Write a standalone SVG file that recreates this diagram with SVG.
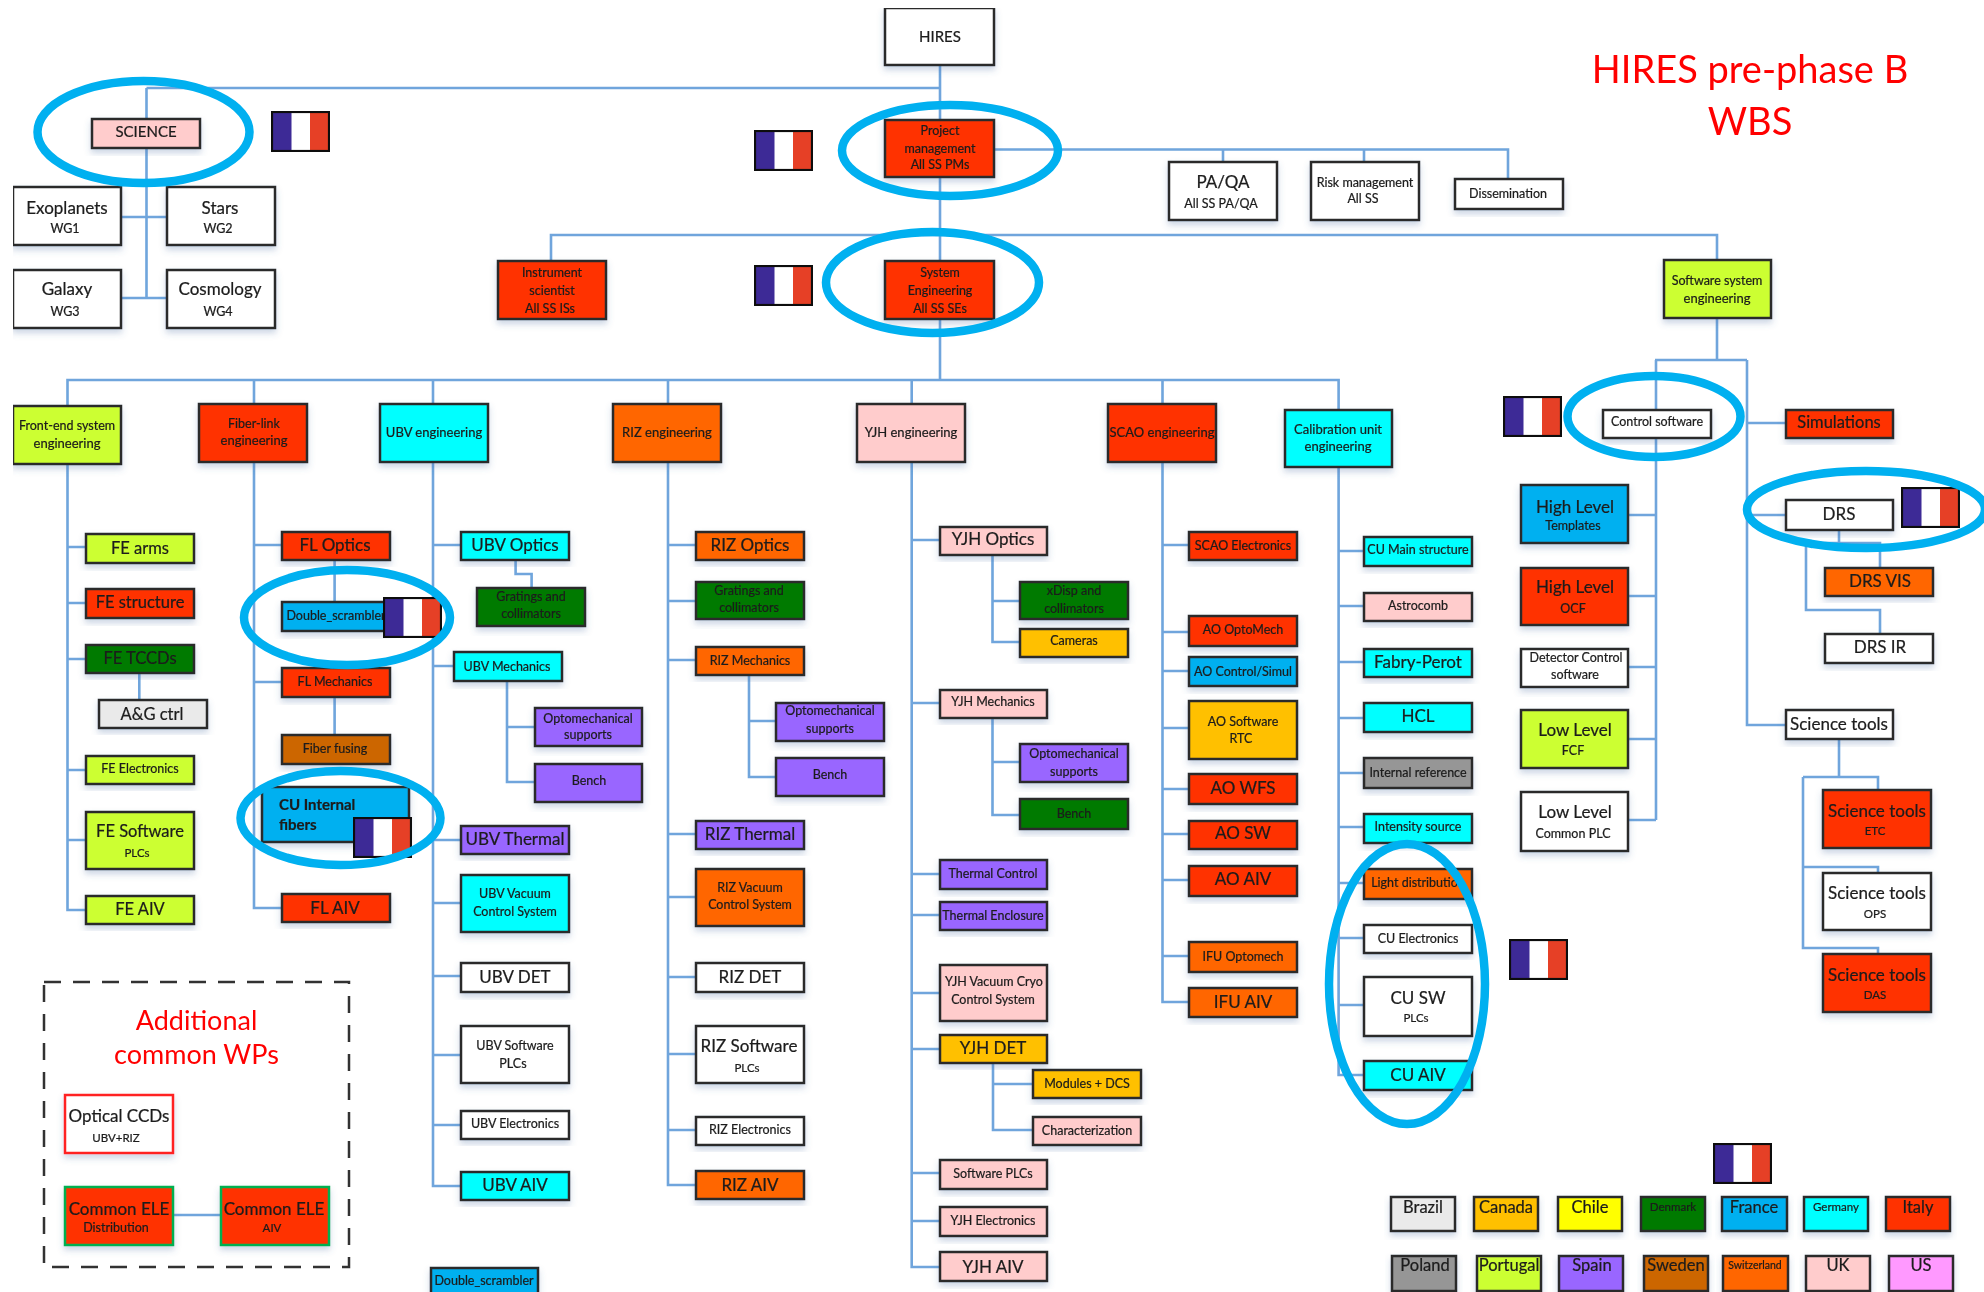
<svg xmlns="http://www.w3.org/2000/svg" width="1984" height="1292" viewBox="0 0 1984 1292">
<defs>
<style>
text{font-family:Lato,"Liberation Sans",sans-serif;text-anchor:middle;fill:#1c1c1c;stroke:#1c1c1c;stroke-width:.22}
.b{stroke:#2b2b2b;stroke-width:2.5;filter:url(#sh)}
.c{fill:none;stroke:#6fa5dc;stroke-width:2.6}
.o{fill:none;stroke:#00b0f0;stroke-width:8.5}
.w{fill:#fff}.r{fill:#ff3300}.or{fill:#ff6600}.g{fill:#007a00}.cy{fill:#00ffff}.l{fill:#ccff33}.p{fill:#ffcccc}.v{fill:#9966ff}.y{fill:#ffc000}.br{fill:#cc6600}.gr{fill:#969696}.lg{fill:#eaeaea}.bl{fill:#00b0f0}.ye{fill:#ffff00}.m{fill:#ff99ff}
.s10{font-size:10.5px}.s11{font-size:11.5px}.s12{font-size:12.5px}.s13{font-size:13px}.s15{font-size:15px}.s16{font-size:16.5px}.s18{font-size:17px}.s20{font-size:20px}
text.red{fill:#ff0000;stroke:none}
</style>
<filter id="sh" x="-10%" y="-15%" width="120%" height="140%"><feDropShadow dx="0" dy="4" stdDeviation="3" flood-color="#4a6fa0" flood-opacity=".28"/></filter>
<filter id="soft" x="0" y="0" width="100%" height="100%"><feGaussianBlur stdDeviation="0.6"/></filter>
<symbol id="flag" viewBox="0 0 59 41" width="59" height="41">
<rect x="1" y="1" width="57" height="39" fill="#fff"/>
<rect x="1" y="1" width="19.5" height="39" fill="#3c2a96"/>
<rect x="39" y="1" width="19" height="39" fill="#e64027"/>
<rect x="1" y="1" width="57" height="39" fill="none" stroke="#111" stroke-width="2.2"/>
</symbol>
</defs>
<rect width="1984" height="1292" fill="#fff"/>
<g filter="url(#soft)">
<g id="connectors">
<path class="c" d="M146.500 88H940M146.500 88V298M122 217H166M122 298H166"/>
<path class="c" d="M940 66V380M995 149.500H1508V178M1223 149.500V161M1364 149.500V161"/>
<path class="c" d="M551 260V235H1717V360M1655 360H1747M1656 360V820M1747 360V725H1785M1747 423H1785M1747 515H1785"/>
<path class="c" d="M1629 515H1656M1629 596H1656M1629 667H1656M1629 739H1656M1629 820H1656"/>
<path class="c" d="M1839 530V543M1806 543H1880V567M1806 543V610H1880V633"/>
<path class="c" d="M1839 739V777M1803 777H1878V789M1803 777V948H1878V953M1803 867H1878V872"/>
<path class="c" d="M67.500 405V380H1338.600V409M254 380V403M433 380V403M668 380V403M911.700 380V403M1162.500 380V403"/>
<path class="c" d="M67.500 465V910H85.500M67.500 547H85.500M67.500 603H85.500M67.500 659H85.500M67.500 770H85.500M67.500 840H85.500M139.300 673V699"/>
<path class="c" d="M254 463V908H281M254 545H281M254 682H281M334.600 560V601M334.600 698V734"/>
<path class="c" d="M433 463V1186H460M433 545H460M433 666H453M433 840H460M433 903H460M433 976H460M433 1055H460M433 1125H460M515.600 560V574H531.600V587M507 682V782H534M507 727H534"/>
<path class="c" d="M668 463V1185H695M668 545H695M668 601H695M668 660H695M668 834H695M668 897H695M668 977H695M668 1054H695M668 1130H695M749 675V777H775M749 721H775"/>
<path class="c" d="M911.700 463V1267H939M911.700 540H939M911.700 703H939M911.700 874H939M911.700 915H939M911.700 993H939M911.700 1049H939M911.700 1173H939M911.700 1221H939M992.500 555V642H1019M992.500 601H1019M992.500 718V815H1019M992.500 762H1019M993 1064V1130H1032M993 1084H1032"/>
<path class="c" d="M1162.500 463V1002H1188M1162.500 545H1188M1162.500 632H1188M1162.500 671H1188M1162.500 728H1188M1162.500 789H1188M1162.500 834H1188M1162.500 880H1188M1162.500 956H1188"/>
<path class="c" d="M1338.600 467V1075H1363M1338.600 551H1363M1338.600 606H1363M1338.600 662H1363M1338.600 718H1363M1338.600 773H1363M1338.600 827H1363M1338.600 883H1363M1338.600 938H1363M1338.600 1005H1363"/>
<path class="c" d="M174 1215H220"/>
</g>

<g id="n-hires"><rect class="b w" x="885" y="8" width="109" height="57"/><text class="s15" x="940" y="42">HIRES</text></g>
<g id="n-science"><rect class="b p" x="92" y="119" width="108" height="29"/><text class="s15" x="146" y="137">SCIENCE</text></g>
<g id="n-exoplanets"><rect class="b w" x="13" y="187" width="108" height="58"/><text class="s18" x="67" y="214">Exoplanets</text><text class="s12" x="65" y="233">WG1</text></g>
<g id="n-stars"><rect class="b w" x="167" y="187" width="108" height="58"/><text class="s18" x="220" y="214">Stars</text><text class="s12" x="218" y="233">WG2</text></g>
<g id="n-galaxy"><rect class="b w" x="13" y="270" width="108" height="58"/><text class="s18" x="67" y="295">Galaxy</text><text class="s12" x="65" y="316">WG3</text></g>
<g id="n-cosmology"><rect class="b w" x="167" y="270" width="108" height="58"/><text class="s18" x="220" y="295">Cosmology</text><text class="s12" x="218" y="316">WG4</text></g>
<g id="n-pm"><rect class="b r" x="885" y="120" width="109" height="57"/><text class="s12" x="940" y="135">Project</text><text class="s12" x="940" y="153">management</text><text class="s12" x="940" y="169">All SS PMs</text></g>
<g id="n-paqa"><rect class="b w" x="1169" y="162" width="108" height="58"/><text class="s18" x="1223" y="188">PA/QA</text><text class="s12" x="1221" y="208">All SS PA/QA</text></g>
<g id="n-risk"><rect class="b w" x="1311" y="162" width="108" height="58"/><text class="s12" x="1365" y="187">Risk management</text><text class="s12" x="1363" y="203">All SS</text></g>
<g id="n-diss"><rect class="b w" x="1455" y="179" width="108" height="30"/><text class="s12" x="1508" y="198">Dissemination</text></g>
<g id="n-instrument"><rect class="b r" x="498" y="261" width="108" height="58"/><text class="s12" x="552" y="277">Instrument</text><text class="s12" x="552" y="295">scientist</text><text class="s12" x="550" y="313">All SS ISs</text></g>
<g id="n-syseng"><rect class="b r" x="885" y="261" width="109" height="58"/><text class="s12" x="940" y="277">System</text><text class="s12" x="940" y="295">Engineering</text><text class="s12" x="940" y="313">All SS SEs</text></g>
<g id="n-swsys"><rect class="b l" x="1664" y="260" width="107" height="58"/><text class="s12" x="1717" y="285">Software system</text><text class="s13" x="1717" y="303">engineering</text></g>

<g id="n-fe"><rect class="b l" x="13" y="406" width="108" height="58"/><text class="s12" x="67" y="430">Front-end system</text><text class="s13" x="67" y="448">engineering</text></g>
<g id="n-fl"><rect class="b r" x="199" y="404" width="108" height="58"/><text class="s12" x="254" y="428">Fiber-link</text><text class="s13" x="254" y="445">engineering</text></g>
<g id="n-ubv"><rect class="b cy" x="380" y="404" width="108" height="58"/><text class="s13" x="434" y="437">UBV engineering</text></g>
<g id="n-riz"><rect class="b or" x="613" y="404" width="108" height="58"/><text class="s13" x="667" y="437">RIZ engineering</text></g>
<g id="n-yjh"><rect class="b p" x="857" y="404" width="108" height="58"/><text class="s13" x="911" y="437">YJH engineering</text></g>
<g id="n-scao"><rect class="b r" x="1108" y="404" width="108" height="58"/><text class="s13" x="1162" y="437">SCAO engineering</text></g>
<g id="n-cal"><rect class="b cy" x="1285" y="410" width="107" height="57"/><text class="s13" x="1338" y="434">Calibration unit</text><text class="s13" x="1338" y="451">engineering</text></g>

<g id="n-fearms"><rect class="b l" x="86" y="534" width="108" height="29"/><text class="s16" x="140" y="554">FE arms</text></g>
<g id="n-festruct"><rect class="b r" x="86" y="589" width="108" height="29"/><text class="s16" x="140" y="608">FE structure</text></g>
<g id="n-fetccd"><rect class="b g" x="86" y="645" width="108" height="28"/><text class="s16" x="140" y="664">FE TCCDs</text></g>
<g id="n-agctrl"><rect class="b lg" x="99" y="700" width="108" height="28"/><text class="s16" x="152" y="720">A&amp;G ctrl</text></g>
<g id="n-feelec"><rect class="b l" x="86" y="756" width="108" height="28"/><text class="s12" x="140" y="773">FE Electronics</text></g>
<g id="n-fesw"><rect class="b l" x="86" y="812" width="108" height="57"/><text class="s16" x="140" y="837">FE Software</text><text class="s11" x="137" y="857">PLCs</text></g>
<g id="n-feaiv"><rect class="b l" x="86" y="896" width="108" height="28"/><text class="s16" x="140" y="915">FE AIV</text></g>

<g id="n-floptics"><rect class="b r" x="282" y="532" width="108" height="28"/><text class="s18" x="335" y="551">FL Optics</text></g>
<g id="n-dscr"><rect class="b bl" x="282" y="602" width="108" height="29"/><text class="s12" x="336" y="620">Double_scrambler</text></g>
<g id="n-flmech"><rect class="b r" x="282" y="668" width="108" height="29"/><text class="s12" x="335" y="686">FL Mechanics</text></g>
<g id="n-fiberf"><rect class="b br" x="282" y="735" width="108" height="29"/><text class="s12" x="335" y="753">Fiber fusing</text></g>
<g id="n-cuint"><rect class="b bl" x="262" y="787" width="147" height="55"/><text class="s15" x="279" y="810" style="text-anchor:start;font-weight:700">CU Internal</text><text class="s15" x="279" y="830" style="text-anchor:start;font-weight:700">fibers</text></g>
<g id="n-flaiv"><rect class="b r" x="282" y="894" width="108" height="28"/><text class="s18" x="335" y="914">FL AIV</text></g>

<g id="n-ubvopt"><rect class="b cy" x="461" y="532" width="108" height="28"/><text class="s18" x="515" y="551">UBV Optics</text></g>
<g id="n-ubvgrat"><rect class="b g" x="477" y="588" width="108" height="38"/><text class="s12" x="531" y="601">Gratings and</text><text class="s12" x="531" y="618">collimators</text></g>
<g id="n-ubvmech"><rect class="b cy" x="454" y="652" width="108" height="29"/><text class="s12" x="507" y="671">UBV Mechanics</text></g>
<g id="n-ubvom"><rect class="b v" x="535" y="708" width="107" height="38"/><text class="s12" x="588" y="723">Optomechanical</text><text class="s12" x="588" y="739">supports</text></g>
<g id="n-ubvbench"><rect class="b v" x="535" y="764" width="107" height="38"/><text class="s12" x="589" y="785">Bench</text></g>
<g id="n-ubvth"><rect class="b v" x="461" y="826" width="108" height="28"/><text class="s18" x="515" y="845">UBV Thermal</text></g>
<g id="n-ubvvac"><rect class="b cy" x="461" y="875" width="108" height="57"/><text class="s12" x="515" y="898">UBV Vacuum</text><text class="s12" x="515" y="916">Control System</text></g>
<g id="n-ubvdet"><rect class="b w" x="461" y="963" width="108" height="29"/><text class="s18" x="515" y="983">UBV DET</text></g>
<g id="n-ubvsw"><rect class="b w" x="461" y="1026" width="108" height="57"/><text class="s12" x="515" y="1050">UBV Software</text><text class="s12" x="513" y="1068">PLCs</text></g>
<g id="n-ubvel"><rect class="b w" x="461" y="1111" width="108" height="28"/><text class="s12" x="515" y="1128">UBV Electronics</text></g>
<g id="n-ubvaiv"><rect class="b cy" x="461" y="1172" width="108" height="28"/><text class="s18" x="515" y="1191">UBV AIV</text></g>
<g id="n-dscr2"><rect class="b bl" x="431" y="1268" width="107" height="32"/><text class="s12" x="484" y="1285">Double_scrambler</text></g>

<g id="n-rizopt"><rect class="b or" x="696" y="532" width="108" height="28"/><text class="s18" x="750" y="551">RIZ Optics</text></g>
<g id="n-rizgrat"><rect class="b g" x="696" y="582" width="108" height="37"/><text class="s12" x="749" y="595">Gratings and</text><text class="s12" x="749" y="612">collimators</text></g>
<g id="n-rizmech"><rect class="b or" x="696" y="647" width="108" height="28"/><text class="s12" x="750" y="665">RIZ Mechanics</text></g>
<g id="n-rizom"><rect class="b v" x="776" y="703" width="108" height="38"/><text class="s12" x="830" y="715">Optomechanical</text><text class="s12" x="830" y="733">supports</text></g>
<g id="n-rizbench"><rect class="b v" x="776" y="758" width="108" height="38"/><text class="s12" x="830" y="779">Bench</text></g>
<g id="n-rizth"><rect class="b v" x="696" y="821" width="108" height="28"/><text class="s18" x="750" y="840">RIZ Thermal</text></g>
<g id="n-rizvac"><rect class="b or" x="696" y="869" width="108" height="57"/><text class="s12" x="750" y="892">RIZ Vacuum</text><text class="s12" x="750" y="909">Control System</text></g>
<g id="n-rizdet"><rect class="b w" x="696" y="963" width="108" height="29"/><text class="s18" x="750" y="983">RIZ DET</text></g>
<g id="n-rizsw"><rect class="b w" x="696" y="1026" width="108" height="57"/><text class="s18" x="749" y="1052">RIZ Software</text><text class="s11" x="747" y="1072">PLCs</text></g>
<g id="n-rizel"><rect class="b w" x="696" y="1117" width="108" height="28"/><text class="s12" x="750" y="1134">RIZ Electronics</text></g>
<g id="n-rizaiv"><rect class="b or" x="696" y="1171" width="108" height="28"/><text class="s18" x="750" y="1191">RIZ AIV</text></g>

<g id="n-yjhopt"><rect class="b p" x="940" y="527" width="107" height="28"/><text class="s18" x="993" y="545">YJH Optics</text></g>
<g id="n-xdisp"><rect class="b g" x="1020" y="582" width="108" height="37"/><text class="s12" x="1074" y="595">xDisp and</text><text class="s12" x="1074" y="613">collimators</text></g>
<g id="n-cameras"><rect class="b y" x="1020" y="629" width="108" height="28"/><text class="s12" x="1074" y="645">Cameras</text></g>
<g id="n-yjhmech"><rect class="b p" x="940" y="690" width="107" height="28"/><text class="s12" x="993" y="706">YJH Mechanics</text></g>
<g id="n-yjhom"><rect class="b v" x="1020" y="744" width="108" height="38"/><text class="s12" x="1074" y="758">Optomechanical</text><text class="s12" x="1074" y="776">supports</text></g>
<g id="n-yjhbench"><rect class="b g" x="1020" y="799" width="108" height="30"/><text class="s12" x="1074" y="818">Bench</text></g>
<g id="n-thc"><rect class="b v" x="940" y="860" width="107" height="29"/><text class="s12" x="993" y="878">Thermal Control</text></g>
<g id="n-the"><rect class="b v" x="940" y="902" width="107" height="28"/><text class="s12" x="993" y="920">Thermal Enclosure</text></g>
<g id="n-yjhvac"><rect class="b p" x="940" y="965" width="107" height="56"/><text class="s12" x="994" y="986">YJH Vacuum Cryo</text><text class="s12" x="993" y="1004">Control System</text></g>
<g id="n-yjhdet"><rect class="b y" x="940" y="1035" width="107" height="28"/><text class="s18" x="993" y="1054">YJH DET</text></g>
<g id="n-modules"><rect class="b y" x="1033" y="1070" width="108" height="28"/><text class="s12" x="1087" y="1088">Modules + DCS</text></g>
<g id="n-char"><rect class="b p" x="1033" y="1117" width="108" height="28"/><text class="s12" x="1087" y="1135">Characterization</text></g>
<g id="n-swplc"><rect class="b p" x="940" y="1160" width="107" height="29"/><text class="s12" x="993" y="1178">Software PLCs</text></g>
<g id="n-yjhel"><rect class="b p" x="940" y="1207" width="107" height="29"/><text class="s12" x="993" y="1225">YJH Electronics</text></g>
<g id="n-yjhaiv"><rect class="b p" x="940" y="1252" width="107" height="29"/><text class="s18" x="993" y="1273">YJH AIV</text></g>

<g id="n-scaoel"><rect class="b r" x="1189" y="532" width="108" height="28"/><text class="s12" x="1243" y="550">SCAO Electronics</text></g>
<g id="n-aoom"><rect class="b r" x="1189" y="616" width="108" height="30"/><text class="s12" x="1243" y="634">AO OptoMech</text></g>
<g id="n-aoctrl"><rect class="b bl" x="1189" y="657" width="108" height="29"/><text class="s12" x="1243" y="676">AO Control/Simul</text></g>
<g id="n-aosw"><rect class="b y" x="1189" y="701" width="108" height="58"/><text class="s12" x="1243" y="726">AO Software</text><text class="s12" x="1241" y="743">RTC</text></g>
<g id="n-aowfs"><rect class="b r" x="1189" y="774" width="108" height="30"/><text class="s18" x="1243" y="794">AO WFS</text></g>
<g id="n-aosw2"><rect class="b r" x="1189" y="821" width="108" height="28"/><text class="s18" x="1243" y="839">AO SW</text></g>
<g id="n-aoaiv"><rect class="b r" x="1189" y="866" width="108" height="30"/><text class="s18" x="1243" y="885">AO AIV</text></g>
<g id="n-ifuom"><rect class="b or" x="1189" y="942" width="108" height="30"/><text class="s12" x="1243" y="961">IFU Optomech</text></g>
<g id="n-ifuaiv"><rect class="b or" x="1189" y="988" width="108" height="29"/><text class="s18" x="1243" y="1008">IFU AIV</text></g>

<g id="n-cumain"><rect class="b cy" x="1364" y="537" width="108" height="29"/><text class="s12" x="1418" y="554">CU Main structure</text></g>
<g id="n-astro"><rect class="b p" x="1364" y="593" width="108" height="28"/><text class="s12" x="1418" y="610">Astrocomb</text></g>
<g id="n-fabry"><rect class="b cy" x="1364" y="649" width="108" height="28"/><text class="s18" x="1418" y="668">Fabry-Perot</text></g>
<g id="n-hcl"><rect class="b cy" x="1364" y="703" width="108" height="29"/><text class="s18" x="1418" y="722">HCL</text></g>
<g id="n-intref"><rect class="b gr" x="1364" y="758" width="108" height="30"/><text class="s12" x="1418" y="777">Internal reference</text></g>
<g id="n-intsrc"><rect class="b cy" x="1364" y="814" width="108" height="29"/><text class="s12" x="1418" y="831">Intensity source</text></g>
<g id="n-light"><rect class="b or" x="1364" y="869" width="108" height="30"/><text class="s12" x="1418" y="887">Light distribution</text></g>
<g id="n-cuel"><rect class="b w" x="1364" y="925" width="108" height="28"/><text class="s12" x="1418" y="943">CU Electronics</text></g>
<g id="n-cusw"><rect class="b w" x="1364" y="977" width="108" height="59"/><text class="s18" x="1418" y="1004">CU SW</text><text class="s11" x="1416" y="1022">PLCs</text></g>
<g id="n-cuaiv"><rect class="b cy" x="1364" y="1061" width="108" height="29"/><text class="s18" x="1418" y="1081">CU AIV</text></g>

<g id="n-ctrlsw"><rect class="b w" x="1603" y="410" width="108" height="28"/><text class="s12" x="1657" y="426">Control software</text></g>
<g id="n-sim"><rect class="b r" x="1786" y="410" width="107" height="28"/><text class="s16" x="1839" y="428">Simulations</text></g>
<g id="n-hlt"><rect class="b bl" x="1521" y="485" width="107" height="58"/><text class="s18" x="1575" y="513">High Level</text><text class="s12" x="1573" y="530">Templates</text></g>
<g id="n-hlo"><rect class="b r" x="1521" y="568" width="107" height="57"/><text class="s18" x="1575" y="593">High Level</text><text class="s12" x="1573" y="613">OCF</text></g>
<g id="n-det"><rect class="b w" x="1521" y="649" width="107" height="38"/><text class="s12" x="1576" y="662">Detector Control</text><text class="s12" x="1575" y="679">software</text></g>
<g id="n-llf"><rect class="b l" x="1521" y="710" width="107" height="58"/><text class="s18" x="1575" y="736">Low Level</text><text class="s12" x="1573" y="755">FCF</text></g>
<g id="n-llc"><rect class="b w" x="1521" y="792" width="107" height="59"/><text class="s18" x="1575" y="818">Low Level</text><text class="s12" x="1573" y="838">Common PLC</text></g>
<g id="n-drs"><rect class="b w" x="1786" y="500" width="107" height="30"/><text class="s18" x="1839" y="520">DRS</text></g>
<g id="n-drsvis"><rect class="b or" x="1825" y="568" width="108" height="28"/><text class="s18" x="1880" y="587">DRS VIS</text></g>
<g id="n-drsir"><rect class="b w" x="1825" y="634" width="108" height="29"/><text class="s18" x="1880" y="653">DRS IR</text></g>
<g id="n-st"><rect class="b w" x="1786" y="710" width="107" height="29"/><text class="s18" x="1839" y="730">Science tools</text></g>
<g id="n-stetc"><rect class="b r" x="1823" y="790" width="108" height="58"/><text class="s18" x="1877" y="817">Science tools</text><text class="s11" x="1875" y="835">ETC</text></g>
<g id="n-stops"><rect class="b w" x="1823" y="873" width="108" height="57"/><text class="s18" x="1877" y="899">Science tools</text><text class="s11" x="1875" y="918">OPS</text></g>
<g id="n-stdas"><rect class="b r" x="1823" y="954" width="108" height="58"/><text class="s18" x="1877" y="981">Science tools</text><text class="s11" x="1875" y="999">DAS</text></g>

<g id="n-wps">
<rect x="44" y="982" width="305" height="285" fill="none" stroke="#333" stroke-width="2.5" stroke-dasharray="17 12"/>
<text class="red" x="196.500" y="1030" font-size="27">Additional</text>
<text class="red" x="196.500" y="1064" font-size="27">common WPs</text>
</g>
<g id="n-optccd"><rect class="b w" style="stroke:#ff2020" x="65" y="1095" width="108" height="58"/><text class="s18" x="119" y="1122">Optical CCDs</text><text class="s11" x="116" y="1142">UBV+RIZ</text></g>
<g id="n-ele1"><rect class="b r" style="stroke:#00b050" x="65" y="1187" width="108" height="58"/><text class="s18" x="119" y="1215">Common ELE</text><text class="s12" x="116" y="1232">Distribution</text></g>
<g id="n-ele2"><rect class="b r" style="stroke:#00b050" x="221" y="1187" width="108" height="58"/><text class="s18" x="274" y="1215">Common ELE</text><text class="s11" x="272" y="1232">AIV</text></g>

<g id="legend">
<g id="l-brazil"><rect class="b lg" x="1391" y="1197" width="64" height="34"/><text class="s16" x="1423" y="1213">Brazil</text></g>
<g id="l-canada"><rect class="b y" x="1474" y="1197" width="64" height="34"/><text class="s16" x="1506" y="1213">Canada</text></g>
<g id="l-chile"><rect class="b ye" x="1558" y="1197" width="64" height="34"/><text class="s16" x="1590" y="1213">Chile</text></g>
<g id="l-denmark"><rect class="b g" x="1641" y="1197" width="64" height="34"/><text class="s11" x="1673" y="1211">Denmark</text></g>
<g id="l-france"><rect class="b bl" x="1722" y="1197" width="65" height="34"/><text class="s16" x="1754" y="1213">France</text></g>
<g id="l-germany"><rect class="b cy" x="1804" y="1197" width="64" height="34"/><text class="s11" x="1836" y="1211">Germany</text></g>
<g id="l-italy"><rect class="b r" x="1886" y="1197" width="64" height="34"/><text class="s16" x="1918" y="1213">Italy</text></g>
<g id="l-poland"><rect class="b gr" x="1392" y="1256" width="64" height="35"/><text class="s16" x="1425" y="1271">Poland</text></g>
<g id="l-portugal"><rect class="b l" x="1477" y="1256" width="64" height="35"/><text class="s16" x="1509" y="1271">Portugal</text></g>
<g id="l-spain"><rect class="b v" x="1559" y="1256" width="64" height="35"/><text class="s16" x="1592" y="1271">Spain</text></g>
<g id="l-sweden"><rect class="b br" x="1644" y="1256" width="64" height="35"/><text class="s16" x="1676" y="1271">Sweden</text></g>
<g id="l-switz"><rect class="b or" x="1723" y="1256" width="65" height="35"/><text class="s10" x="1755" y="1269">Switzerland</text></g>
<g id="l-uk"><rect class="b p" x="1806" y="1256" width="64" height="35"/><text class="s16" x="1838" y="1271">UK</text></g>
<g id="l-us"><rect class="b m" x="1889" y="1256" width="64" height="35"/><text class="s16" x="1921" y="1271">US</text></g>
</g>

<g id="flags">
<use href="#flag" x="271" y="111"/>
<use href="#flag" x="754" y="130"/>
<use href="#flag" x="754" y="265"/>
<use href="#flag" x="383" y="597"/>
<use href="#flag" x="353" y="817"/>
<use href="#flag" x="1503" y="396"/>
<use href="#flag" x="1901" y="487"/>
<use href="#flag" x="1509" y="939"/>
<use href="#flag" x="1713" y="1143"/>
</g>

<g id="title">
<text class="red" x="1750" y="83" font-size="38">HIRES pre-phase B</text>
<text class="red" x="1750" y="135" font-size="38">WBS</text>
</g>

<g id="highlights">
<ellipse class="o" cx="143.500" cy="132" rx="106" ry="51"/>
<ellipse class="o" cx="950" cy="150.500" rx="108" ry="45.500"/>
<ellipse class="o" cx="932.500" cy="282.500" rx="106.500" ry="50.500"/>
<ellipse class="o" cx="347" cy="617.500" rx="103" ry="47.500"/>
<ellipse class="o" cx="340.500" cy="818" rx="100" ry="47"/>
<ellipse class="o" cx="1654" cy="416.500" rx="86.500" ry="40.500"/>
<ellipse class="o" cx="1866" cy="509.500" rx="119" ry="38.500"/>
<ellipse class="o" cx="1407" cy="984" rx="78" ry="140"/>
</g>
</g>
</svg>
